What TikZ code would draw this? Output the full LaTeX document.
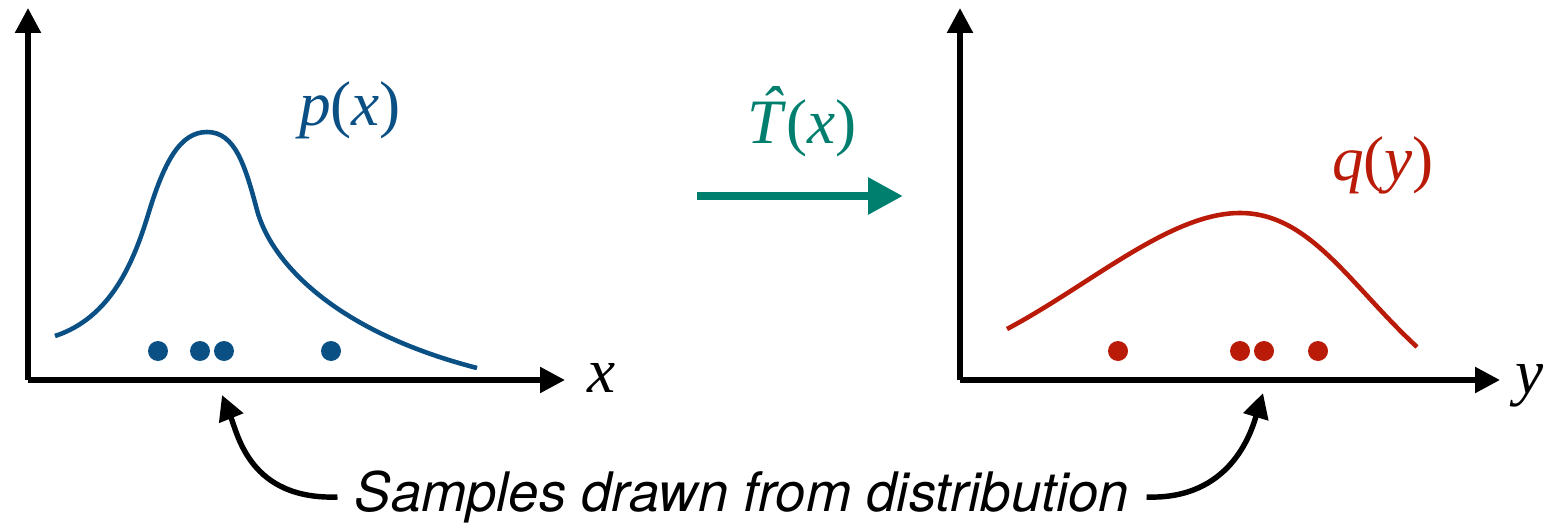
\documentclass[tikz,border=0pt]{standalone}
\usepackage{fontspec}
\setmainfont{Liberation Serif}
\setsansfont{TeX Gyre Heros}
\usetikzlibrary{arrows.meta,positioning}
\definecolor{pblue}{RGB}{11,80,133}
\definecolor{qred}{RGB}{186,26,8}
\definecolor{tgreen}{RGB}{0,126,110}
\tikzset{
axis/.style={line width=3.1pt,-{Triangle[length=0.5cm,width=0.5cm]}},
densp/.style={pblue,line width=2.6pt},
densq/.style={qred,line width=2.6pt},
sampp/.style={fill=pblue},
sampq/.style={fill=qred},
maparrow/.style={tgreen,line width=5.1pt,-{Triangle[length=0.7cm,width=0.7cm]}},
pointer/.style={line width=3.1pt,-{Triangle[length=0.5cm,width=0.5cm]}},
mathlabel/.style={font=\fontsize{36}{40}\selectfont,inner sep=0pt},
axislabel/.style={font=\fontsize{36}{40}\selectfont\itshape,inner sep=0pt},
caption/.style={font=\fontsize{31}{36}\selectfont\sffamily\itshape,inner sep=0.34cm}
}

\begin{document}
\begin{tikzpicture}[x=0.02cm,y=-0.02cm]
\useasboundingbox (0,0) rectangle (1544,527);
% axes
\coordinate (originP) at (28,380);
\coordinate (originQ) at (960,380);
\draw[axis] (originP) -- (28,8);
\draw[axis] (originP) -- (565,380);
\draw[axis] (originQ) -- (960,8);
\draw[axis] (originQ) -- (1500,380);
\node[axislabel] (labx) at (602,378) {x};
\node[axislabel] (laby) at (1530,386) {y};
% densities
\draw[densp] (55,336) .. controls (110,318) and (133,264) .. (148,215)
  .. controls (164,162) and (180,132) .. (207,132)
  .. controls (235,132) and (245,165) .. (257,210)
  .. controls (270,259) and (330,330) .. (477,368);
\draw[densq] (1007,329) .. controls (1090,285) and (1170,213) .. (1240,213)
  .. controls (1310,213) and (1350,285) .. (1417,347);
\node[mathlabel,pblue] (labp) at (350,110) {\textit{p}(\textit{x})};
\node[mathlabel,qred] (labq) at (1383,165) {\textit{q}(\textit{y})};
% samples
\foreach \sx in {158,200,224,331} \fill[sampp] (\sx,351) circle[radius=0.2cm];
\foreach \sx in {1118,1240,1264,1318} \fill[sampq] (\sx,351) circle[radius=0.2cm];
% map
\coordinate (mapL) at (697,196);
\coordinate (mapR) at (903,196);
\draw[maparrow] (mapL) -- (mapR);
\node[mathlabel,tgreen] (labT) at (802,122) {\textit{\makebox[0pt][l]{\hspace{0.2em}\raisebox{0.2em}{\char"02C6}}T}(\textit{x})};
% caption
\node[caption] (samples) at (742,497) {Samples drawn from distribution};
\coordinate (tipP) at (222,395);
\coordinate (tipQ) at (1263,393);
\draw[pointer] (samples.west) .. controls (250,500) and (238,435) .. (tipP);
\draw[pointer] (samples.east) .. controls (1230,500) and (1251,433) .. (tipQ);
\end{tikzpicture}
\end{document}
